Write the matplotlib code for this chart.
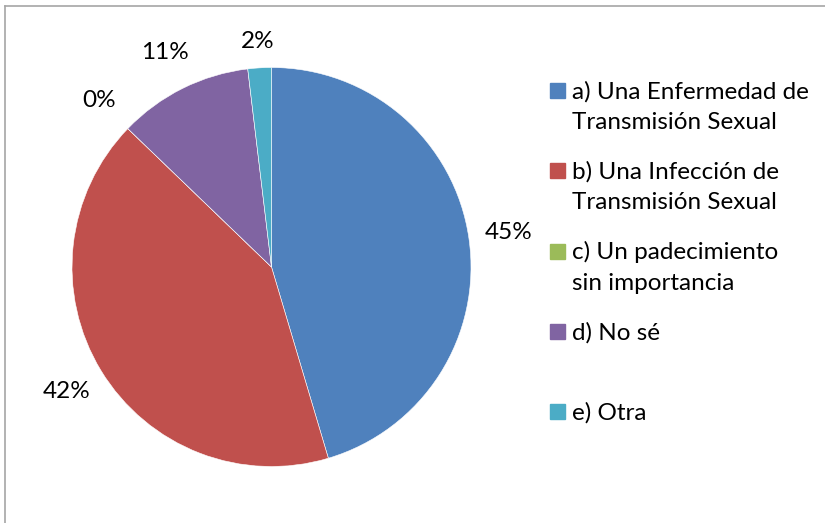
import numpy as np
import matplotlib.pyplot as plt
from matplotlib.patches import Rectangle
from matplotlib.lines import Line2D

plt.rcParams['font.family'] = ['Lato', 'DejaVu Sans']

# data (percent)
categories = ['a) Una Enfermedad de\nTransmisión Sexual',
              'b) Una Infección de\nTransmisión Sexual',
              'c) Un padecimiento\nsin importancia',
              'd) No sé',
              'e) Otra']
values = [45.4, 41.8, 0.0, 10.9, 1.9]
colors = ['#4F81BD', '#C0504D', '#9BBB59', '#8064A2', '#4BACC6']

W, H = 825, 523
FS = 17.5
fig = plt.figure(figsize=(W / 100, H / 100), dpi=100)

# pie centre / radius in pixels
cx, cy, r = 271.5, 267, 199.5
hx, hy = 1.36, 1.27
ax = fig.add_axes([(cx - hx * r) / W, (H - cy - hy * r) / H, 2 * hx * r / W, 2 * hy * r / H])

wedges, texts, autotexts = ax.pie(values, colors=colors, startangle=90, counterclock=False,
                                  autopct='%.0f%%', pctdistance=1.2,
                                  wedgeprops=dict(edgecolor='white', linewidth=0.4),
                                  textprops=dict(fontsize=FS, color='black'))
# the small last slice label sits a little closer in the original
x, y = autotexts[-1].get_position()
autotexts[-1].set_position((x * 1.13 / 1.2, y * 1.13 / 1.2))

ax.set_xlim(-hx, hx)
ax.set_ylim(-hy, hy)
ax.set_aspect('auto')
ax.axis('off')

# legend drawn by hand (Excel-style)
sq_y = [90.5, 170.8, 251, 331.5, 411.5]
for cat, col, yy in zip(categories, colors, sq_y):
    fig.patches.append(Rectangle((550 / W, 1 - (yy + 7.5) / H), 15 / W, 15 / H,
                                 transform=fig.transFigure, color=col))
    for k, line in enumerate(cat.split('\n')):
        fig.text(572 / W, 1 - (yy + 1 + 31 * k) / H, line, fontsize=FS,
                 va='center', ha='left')

# chart area border (only left/top visible)
border = '#A6A6A6'
fig.lines.append(Line2D([4.5 / W, 4.5 / W], [0, 1 - 6 / H], transform=fig.transFigure,
                        color=border, linewidth=1.2))
fig.lines.append(Line2D([4.5 / W, 1], [1 - 6 / H, 1 - 6 / H], transform=fig.transFigure,
                        color=border, linewidth=1.2))

fig.savefig('out.png', dpi=100)
